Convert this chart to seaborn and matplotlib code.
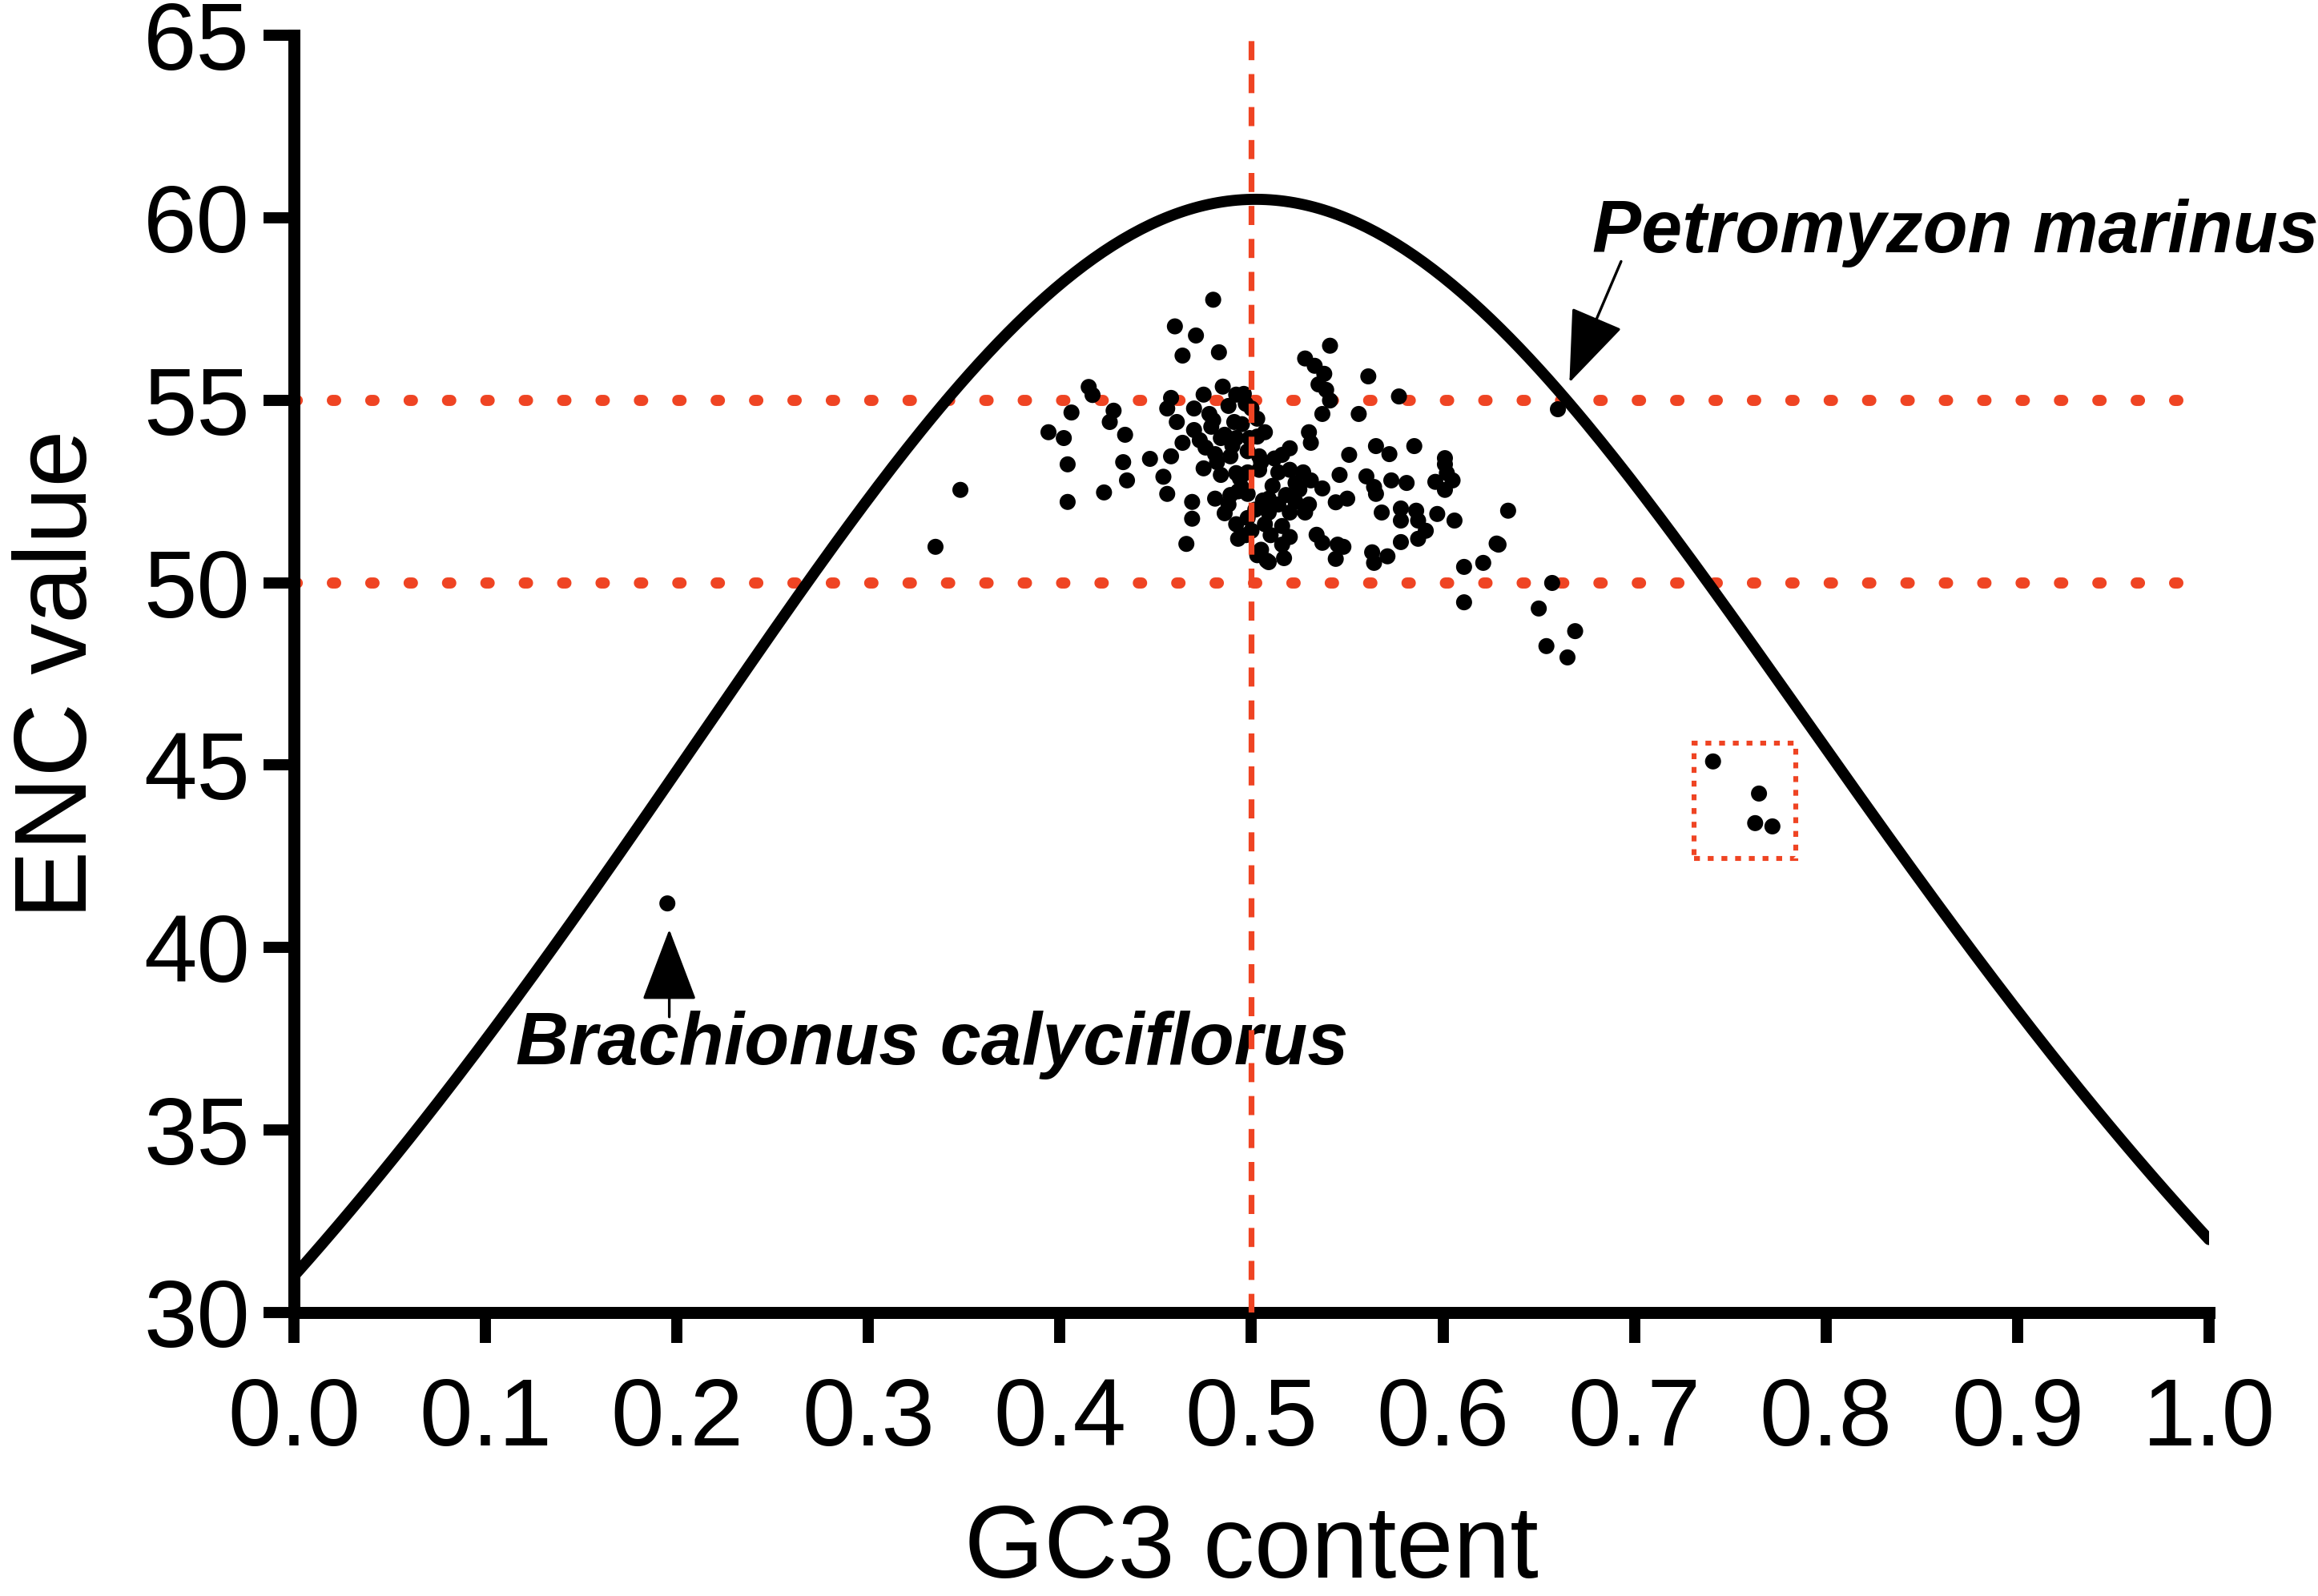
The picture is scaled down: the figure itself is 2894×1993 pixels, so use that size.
import numpy as np
import pandas as pd
import matplotlib.pyplot as plt
import seaborn as sns
from matplotlib.patches import Rectangle

# GC3 / ENC values
gc3 = [0.480, 0.460, 0.471, 0.464, 0.483,
       0.415, 0.417, 0.406, 0.428, 0.426, 0.394, 0.402, 0.434,
       0.404, 0.433, 0.447, 0.458, 0.454, 0.435, 0.456, 0.423, 0.404, 0.348, 0.335, 0.469, 0.469, 0.466,
       0.458, 0.475, 0.485, 0.492, 0.456, 0.461, 0.470, 0.478, 0.488, 0.491, 0.470, 0.479, 0.464, 0.473,
       0.484, 0.492, 0.481, 0.489,
       0.496, 0.500, 0.503, 0.507, 0.499, 0.504, 0.495,
       0.497, 0.503, 0.498, 0.505, 0.495, 0.502, 0.497, 0.505, 0.507, 0.492, 0.489, 0.486, 0.475, 0.484,
       0.481, 0.488, 0.492, 0.493, 0.493, 0.508,
       0.541, 0.528, 0.533, 0.538, 0.535, 0.539, 0.541, 0.537, 0.561, 0.577, 0.556, 0.530, 0.531, 0.520,
       0.516, 0.551, 0.565, 0.572, 0.585, 0.601,
       0.546, 0.537, 0.560, 0.564, 0.565, 0.573, 0.581, 0.596, 0.601, 0.605, 0.601, 0.544, 0.550, 0.568,
       0.578, 0.578, 0.586, 0.587, 0.591, 0.587, 0.597, 0.606, 0.578, 0.534, 0.537, 0.545, 0.548, 0.544,
       0.563, 0.564, 0.571, 0.629, 0.621, 0.611,
       0.498, 0.504, 0.514, 0.520, 0.527, 0.531, 0.523, 0.511, 0.498, 0.509, 0.514, 0.523, 0.530, 0.520,
       0.528, 0.509, 0.516, 0.498, 0.500, 0.516, 0.517, 0.503, 0.509,
       0.480, 0.486, 0.476, 0.490, 0.512, 0.518, 0.525, 0.510, 0.506, 0.494, 0.482, 0.520,
       0.634, 0.628, 0.602, 0.657, 0.611, 0.650, 0.669, 0.654, 0.665,
       0.660,
       0.741, 0.765, 0.763, 0.772,
       0.195]
enc = [57.75, 57.02, 56.77, 56.22, 56.31,
       55.36, 55.14, 54.66, 54.71, 54.40, 54.12, 53.96, 54.05,
       53.24, 53.30, 53.39, 53.46, 52.90, 52.80, 52.43, 52.47, 52.21, 52.54, 50.98, 52.21, 51.75, 51.06,
       55.06, 55.15, 55.37, 55.15, 54.77, 54.40, 54.77, 54.62, 54.84, 54.40, 54.18, 54.27, 53.83, 53.90,
       53.96, 53.96, 53.52, 53.46,
       55.17, 54.77, 54.49, 54.12, 53.96, 53.46, 54.34,
       54.90, 54.00, 53.60, 53.30, 52.60, 52.00, 51.30, 50.90, 51.60, 53.00, 52.40, 51.90, 53.13, 52.95,
       52.30, 52.14, 51.60, 51.20, 52.50, 50.60,
       56.49, 56.14, 55.94, 55.72, 55.43, 55.28, 54.99, 54.62, 55.65, 55.10, 54.62, 54.12, 53.83, 53.68,
       53.50, 53.50, 53.74, 53.52, 53.74, 53.41,
       52.95, 52.58, 52.91, 52.62, 52.43, 52.80, 52.73, 52.76, 52.54, 52.80, 53.24, 52.20, 52.30, 51.92,
       52.03, 51.70, 51.97, 51.70, 51.42, 51.20, 51.88, 51.70, 51.11, 51.31, 51.09, 51.04, 50.98, 50.65,
       50.83, 50.54, 50.72, 51.04, 50.54, 50.43,
       53.02, 53.09, 53.02, 53.09, 53.02, 52.80, 52.73, 52.65, 52.43, 52.30, 52.14, 52.21, 52.14, 51.92,
       51.92, 51.92, 51.55, 51.77, 51.42, 51.04, 50.67, 50.75, 50.56,
       54.45, 54.05, 53.70, 53.75, 53.40, 52.40, 52.55, 51.30, 52.25, 52.85, 53.30, 51.25,
       51.97, 51.07, 53.00, 49.99, 49.46, 49.29, 48.67, 48.26, 47.95,
       54.75,
       45.10, 44.22, 43.41, 43.32,
       41.21]

x_ticks = [0.0, 0.1, 0.2, 0.3, 0.4, 0.5, 0.6, 0.7, 0.8, 0.9, 1.0]
y_ticks = [30, 35, 40, 45, 50, 55, 60, 65]
ref_enc = [50, 55]
ref_gc3 = 0.5

df = pd.DataFrame({'GC3': gc3, 'ENC': enc})

# expected ENC curve under pure mutational pressure
s = np.linspace(0, 1, 401)
curve = pd.DataFrame({'GC3': s, 'ENC': 2 + s + 29 / (s**2 + (1 - s)**2)})

sns.set_style('ticks')
plt.rcParams['font.family'] = ['Liberation Sans', 'DejaVu Sans']
plt.rcParams['text.color'] = 'black'
plt.rcParams['axes.labelcolor'] = 'black'
plt.rcParams['xtick.color'] = 'black'
plt.rcParams['ytick.color'] = 'black'
red = '#EF4423'

fig = plt.figure(figsize=(14.47, 9.965), dpi=200)
ax = fig.add_axes([0.1268, 0.1776, 0.8262, 0.8004])

for v in ref_enc:
    ax.axhline(v, color=red, lw=5, ls=(0, (0.3, 3.15)), dash_capstyle='round', zorder=1)

sns.lineplot(data=curve, x='GC3', y='ENC', color='black', lw=5, ax=ax, zorder=2)
sns.scatterplot(data=df, x='GC3', y='ENC', color='black', s=52, edgecolor='none', ax=ax, zorder=3)
ax.axvline(ref_gc3, color=red, lw=2.6, ls=(0, (3.3, 2.4)), zorder=4)

ax.add_patch(Rectangle((0.731, 42.45), 0.053, 3.15, fill=False, edgecolor=red,
                       lw=2.2, ls=(0, (1.2, 1.6)), zorder=4))

# species labels
ax.text(0.678, 59.05, 'Petromyzon marinus', fontsize=33, fontweight='bold',
        fontstyle='italic', va='baseline', ha='left', clip_on=False)
ax.annotate('', xy=(0.666, 55.48), xytext=(0.693, 58.8),
            arrowprops=dict(arrowstyle='-|>,head_length=2.9,head_width=1.1',
                            mutation_scale=10, lw=1.2, color='black', shrinkA=0, shrinkB=0))
ax.text(0.116, 36.8, 'Brachionus calyciflorus', fontsize=33, fontweight='bold',
        fontstyle='italic', va='baseline', ha='left')
ax.annotate('', xy=(0.196, 40.5), xytext=(0.196, 38.1),
            arrowprops=dict(arrowstyle='-|>,head_length=2.9,head_width=1.1',
                            mutation_scale=10, lw=1.2, color='black', shrinkA=0, shrinkB=0))

ax.set_xlim(0, 1)
ax.set_ylim(30, 65)
ax.set_xticks(x_ticks)
ax.set_xticklabels([f'{t:.1f}' for t in x_ticks])
ax.set_yticks(y_ticks)
ax.set_xlabel('GC3 content', fontsize=46, labelpad=17)
ax.set_ylabel('ENC value', fontsize=46, labelpad=16)
ax.tick_params(axis='both', labelsize=43, width=5, length=13.7, color='black')
ax.tick_params(axis='x', pad=15)
ax.tick_params(axis='y', pad=6)
for side in ['left', 'bottom']:
    ax.spines[side].set_linewidth(5.4)
    ax.spines[side].set_color('black')
sns.despine(ax=ax)

plt.savefig('out.png', dpi=200)
